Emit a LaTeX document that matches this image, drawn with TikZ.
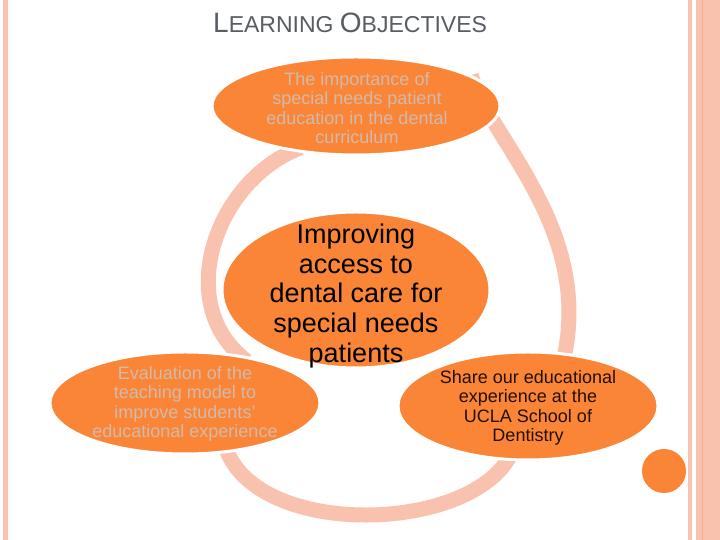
\documentclass[tikz,border=0pt]{standalone}
\usepackage{fontspec}
\setmainfont{Liberation Sans}
\usepackage{xcolor}
\usetikzlibrary{shapes.geometric, backgrounds}
\definecolor{peach}{RGB}{249,194,174}
\definecolor{tangerine}{RGB}{250,133,54}
\definecolor{sand}{RGB}{210,186,170}
\definecolor{inkbrown}{RGB}{35,15,5}
\definecolor{slategray}{RGB}{88,93,100}
\newcommand{\fakesc}[2]{{\fontsize{28}{28}\selectfont #1}{\fontsize{23}{23}\selectfont #2}}

\begin{document}
\begin{tikzpicture}[
    x=1pt, y=1pt,
    bubble/.style 2 args={ellipse, fill=tangerine, draw=white, line width=3pt, inner sep=0pt, minimum width=#1, minimum height=#2},
    blurb/.style={font=\fontsize{18}{19.4}\selectfont, align=center, inner sep=0pt, anchor=north, text=#1},
    cyclearc/.style={draw=peach, line width=15pt, shorten <=-10pt, shorten >=-10pt},
]
    \useasboundingbox (0,0) rectangle (720,540);

    % page frame
    \fill[peach] (3,0) rectangle (8,540);
    \fill[peach] (688,0) rectangle (692,540);
    \fill[peach] (696,0) rectangle (720,540);
    \draw[peach!70!tangerine, line width=0.8pt] (702,0) -- (702,540);

    % Title
    \node[text=slategray, anchor=base west, inner sep=0pt, font=\fontsize{23}{23}\selectfont] (title) at (213,507) {\fakesc{L}{EARNING} \fakesc{O}{BJECTIVES}};

    % Cycle items
    \node[bubble={288}{98}] (topic) at (356,434) {};
    \node[blurb=sand] (topictext) at (357,468) {The importance of\\special needs patient\\education in the dental\\curriculum};

    \node[bubble={268}{156}] (core) at (356,250) {};
    \node[blurb=black, font=\fontsize{27}{29.6}\selectfont] (coretext) at (356,316) {Improving\\access to\\dental care for\\special needs\\patients};

    \node[bubble={270}{102}] (evaluation) at (185,137) {};
    \node[blurb=sand] (evaltext) at (185,174) {Evaluation of the\\teaching model to\\improve students'\\educational experience};

    \node[bubble={260}{108}] (sharing) at (528,134) {};
    \node[blurb=inkbrown] (sharetext) at (528,170) {Share our educational\\experience at the\\UCLA School of\\Dentistry};

    \node[circle, fill=tangerine, minimum size=44pt, inner sep=0pt] (dot) at (664,69) {};

    % Ring behind the items
    \begin{scope}[on background layer]
        \fill[white] (0,0) rectangle (720,540);
        \draw[cyclearc] (topic.215) .. controls (215,360) and (172,235) .. (evaluation.42);
        \draw[cyclearc] (evaluation.310) .. controls (250,0) and (475,5) .. (sharing.250);
        \draw[cyclearc, shorten >=0pt] (sharing.55) .. controls (595,310) and (490,400) .. (topic.15);
    \end{scope}
\end{tikzpicture}
\end{document}
